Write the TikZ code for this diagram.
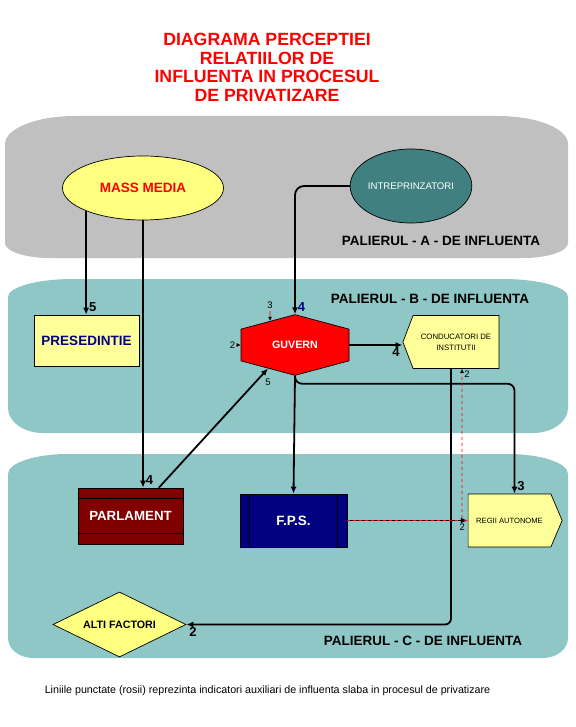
\documentclass[tikz,border=0pt]{standalone}
\usepackage{fontspec}
\setmainfont{Liberation Sans}
\usetikzlibrary{shapes.geometric,shapes.symbols,arrows.meta}
\definecolor{bandgray}{HTML}{C0C0C0}
\definecolor{bandteal}{HTML}{8FC6C6}
\definecolor{paleyellow}{HTML}{FFFF99}
\definecolor{brightyellow}{HTML}{FFFF80}
\definecolor{darkteal}{HTML}{408080}
\definecolor{navy}{HTML}{000080}
\definecolor{maroon}{HTML}{800000}
\begin{document}
\begin{tikzpicture}[x=1pt, y=-1pt,
  box/.style={draw, line width=0.7pt, inner sep=0pt},
  link/.style={line width=1.8pt, -{Latex[length=7pt,width=6pt]}},
  weak/.style={red, line width=0.7pt, dashed, -{Latex[color=black,length=4pt,width=4pt]}},
  num/.style={font=\bfseries\fontsize{13}{13}\selectfont, inner sep=2pt},
  small/.style={text=black, font=\fontsize{9.5}{10}\selectfont, inner sep=2pt},
  level/.style={font=\bfseries\fontsize{13.5}{14}\selectfont, anchor=base}]
  \useasboundingbox (0,0) rectangle (575,727);
  \fill[white] (0,0) rectangle (575,727);

  \fill[bandgray] (5,144) .. controls (5,128.5) and (36.4,116) .. (75,116) -- (498,116) .. controls (536.6,116) and (568,128.5) .. (568,144)
    -- (568,243) .. controls (568,251.3) and (547.8,258) .. (523,258) -- (50,258) .. controls (25.2,258) and (5,251.3) .. (5,243) -- cycle;
  \fill[bandteal] (8,297) .. controls (8,287.1) and (37.1,279) .. (73,279) -- (503,279) .. controls (538.9,279) and (568,287.1) .. (568,297)
    -- (568,408) .. controls (568,421.8) and (552.3,433) .. (533,433) -- (43,433) .. controls (23.7,433) and (8,421.8) .. (8,408) -- cycle;
  \fill[bandteal] (8,474) .. controls (8,463) and (34.9,454) .. (68,454) -- (508,454) .. controls (541.1,454) and (568,463) .. (568,474)
    -- (568,638) .. controls (568,649) and (556.8,658) .. (543,658) -- (33,658) .. controls (19.2,658) and (8,649) .. (8,638) -- cycle;

  \node[anchor=north, inner sep=0pt, align=center, red, font=\bfseries\fontsize{17.7}{18.7}\selectfont] (title) at (267,33)
    {DIAGRAMA PERCEPTIEI\\RELATIILOR DE\\INFLUENTA IN PROCESUL\\DE PRIVATIZARE};
  \node[level] (palA) at (441,245) {PALIERUL - A - DE INFLUENTA};
  \node[level] (palB) at (430,303) {PALIERUL - B - DE INFLUENTA};
  \node[level] (palC) at (423,645) {PALIERUL - C - DE INFLUENTA};

  \node[box, ellipse, fill=brightyellow, minimum width=161, minimum height=64, text=red, font=\bfseries\fontsize{13.5}{14}\selectfont] (mm) at (143,188) {MASS MEDIA};
  \node[box, ellipse, fill=darkteal, minimum width=120, minimum height=74, text=white, font=\fontsize{9.6}{10}\selectfont] (intr) at (411,186) {INTREPRINZATORI};
  \node[box, fill=paleyellow, minimum width=105, minimum height=51, text=navy, font=\bfseries\fontsize{13.5}{14}\selectfont] (pres) at (86.5,340.5) {PRESEDINTIE};
  \node[box, signal, signal to=north and south, signal pointer angle=150, fill=red, minimum width=108, minimum height=44, text=white, font=\bfseries\fontsize{10.7}{11}\selectfont] (guv) at (295,345) {GUVERN};
  \node[box, signal, signal to=west, signal pointer angle=138, fill=paleyellow, minimum width=96, minimum height=53, align=center, font=\fontsize{7.8}{11}\selectfont] (cond) at (456,342) {CONDUCATORI DE\\INSTITUTII};
  \node[box, fill=maroon, minimum width=105, minimum height=56, text=white, font=\bfseries\fontsize{13.3}{14}\selectfont] (parl) at (130.5,516) {PARLAMENT};
  \node[box, fill=navy, minimum width=107, minimum height=53, text=white, font=\bfseries\fontsize{13.5}{14}\selectfont] (fps) at (293.5,520.5) {F.P.S.};
  \node[box, signal, signal pointer angle=134, fill=paleyellow, minimum width=94, minimum height=53, font=\fontsize{7.6}{8}\selectfont] (regii) at (509.5,520.5) {REGII AUTONOME};
  \node[box, diamond, aspect=2.08, fill=brightyellow, minimum width=133, minimum height=65, font=\bfseries\fontsize{10.7}{11}\selectfont] (alti) at (119.5,624.5) {ALTI FACTORI};
  \draw[line width=0.7pt] ([yshift=-11pt]parl.north west) -- ([yshift=-11pt]parl.north east);
  \draw[line width=0.7pt] ([yshift=11pt]parl.south west) -- ([yshift=11pt]parl.south east);
  \draw[line width=0.7pt] ([xshift=10pt]fps.north west) -- ([xshift=10pt]fps.south west);
  \draw[line width=0.7pt] ([xshift=-10pt]fps.north east) -- ([xshift=-10pt]fps.south east);

  \draw[link] (mm.202) -- (mm.202 |- pres.north) node[num, pos=1, above right] {5};
  \draw[link] (mm.south) -- (mm.south |- parl.north) node[num, pos=1, above right] {4};
  \draw[link, rounded corners=9] (intr.west) -| (guv.north) node[num, navy, pos=1, above right] {4};
  \draw[link] (parl.45) -- (guv.221) node[small, pos=1, below=8pt] {5};
  \draw[link] (guv.east) -- (guv.east -| cond.west) node[num, pos=1, below left] {4};
  \draw[link] (guv.south) -- (fps.north);
  \draw[link, rounded corners=7] (guv.south) -- ++(0,8) -| ([xshift=5pt]regii.north) node[num, pos=1, above right] {3};
  \draw[link, rounded corners=6] ([xshift=-5pt]cond.south) |- (alti.east) node[num, pos=1, below right] {2};
  \draw[link] (fps.east) -- (regii.west) node[small, pos=1, below left] {2};
  \draw[red, line width=0.9pt, dash pattern=on 3pt off 3pt] (fps.east) -- ([xshift=-7pt]regii.west);
  \draw[weak, rounded corners=3] ([xshift=-1pt]regii.west) -| ([xshift=6pt]cond.south) node[small, pos=1, below right] {2};
  \coordinate (w3) at (270,311);
  \coordinate (w2) at (236,345);
  \draw[weak, solid] (w3) node[small, above] {3} -- (guv.136);
  \draw[weak, solid] (w2) node[small, left, inner sep=0.5pt] {2} -- (guv.west);

  \node[font=\fontsize{10.7}{11}\selectfont, anchor=base] (note) at (267.5,693) {Liniile punctate (rosii) reprezinta indicatori auxiliari de influenta slaba in procesul de privatizare};
\end{tikzpicture}
\end{document}
